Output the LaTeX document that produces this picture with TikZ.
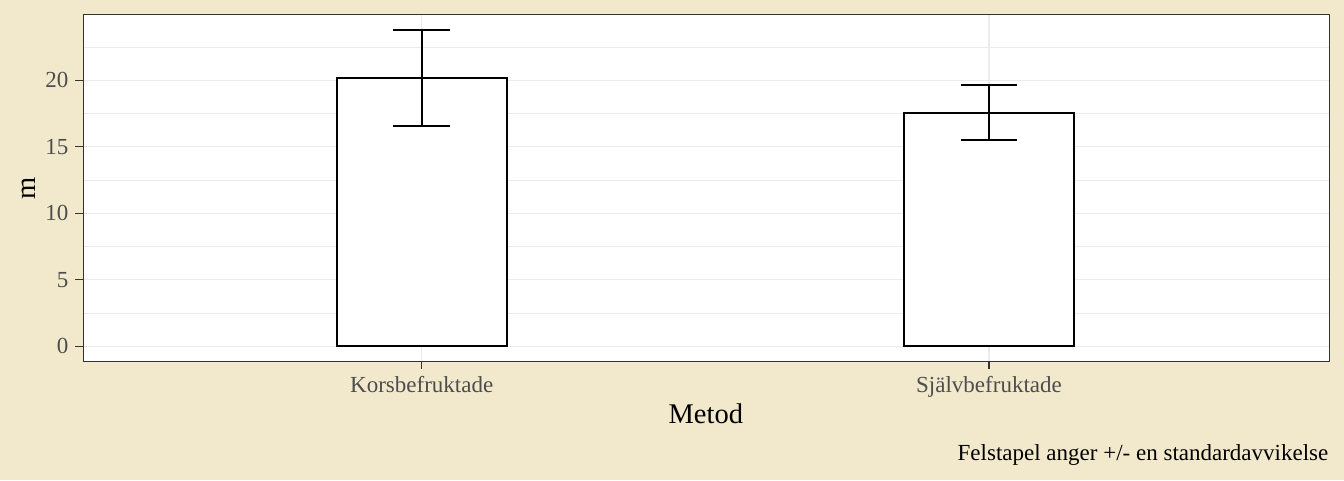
\documentclass[tikz,border=0pt]{standalone}
\usepackage{fontspec}
\setmainfont{Liberation Serif}
\definecolor{bgc}{RGB}{242,233,205}
\definecolor{gridc}{HTML}{EBEBEB}
\definecolor{axc}{HTML}{333333}
\definecolor{tickc}{HTML}{4D4D4D}
\tikzset{
  majorgrid/.style={draw=gridc, line width=1.3pt},
  minorgrid/.style={draw=gridc, line width=0.7pt},
  barbox/.style={draw=black, fill=white, line width=1.9pt},
  errbar/.style={draw=black, line width=1.9pt},
  tickmark/.style={draw=axc, line width=1.3pt},
  ticklab/.style={inner sep=0pt, text=tickc, font=\fontsize{23}{27}\selectfont},
  axtitle/.style={inner sep=0pt, text=black, font=\fontsize{28.5}{33}\selectfont},
  captext/.style={inner sep=0pt, text=black, font=\fontsize{23}{27}\selectfont},
}
\begin{document}
\begin{tikzpicture}[x=1pt,y=-1pt]
\useasboundingbox (0,0) rectangle (1344,480);
\fill[bgc] (0,0) rectangle (1344,480);
% panel
\fill[white] (83.3,14.3) rectangle (1329.5,361.7);
% minor grid
\foreach \yy in {313.05,246.55,180.05,113.55,47.05}
  \draw[minorgrid] (83.3,\yy) -- (1329.5,\yy);
% major grid
\foreach \yy in {346.3,279.8,213.3,146.8,80.3}
  \draw[majorgrid] (83.3,\yy) -- (1329.5,\yy);
\foreach \xx in {421.7,989}
  \draw[majorgrid] (\xx,14.3) -- (\xx,361.7);
% bars
\draw[barbox] (336.7,346.3) rectangle (506.7,78.3);
\draw[barbox] (904,346.3) rectangle (1074,112.7);
% error bars
\coordinate (e1t) at (421.7,30);
\coordinate (e1b) at (421.7,126);
\draw[errbar] (e1t) -- (e1b);
\draw[errbar] ([xshift=-28.3pt]e1t) -- ([xshift=28.3pt]e1t);
\draw[errbar] ([xshift=-28.3pt]e1b) -- ([xshift=28.3pt]e1b);
\coordinate (e2t) at (989,84.7);
\coordinate (e2b) at (989,140);
\draw[errbar] (e2t) -- (e2b);
\draw[errbar] ([xshift=-28pt]e2t) -- ([xshift=28pt]e2t);
\draw[errbar] ([xshift=-28pt]e2b) -- ([xshift=28pt]e2b);
% panel border
\draw[axc, line width=1.4pt] (83.3,14.3) rectangle (1329.5,361.7);
% y ticks and labels
\foreach \yy/\lab [count=\i] in {346.3/0,279.8/5,213.3/10,146.8/15,80.3/20}{
  \draw[tickmark] (75.3,\yy) -- (83.3,\yy);
  \node[ticklab, anchor=base east] (ylab\i) at (68.5,\yy+7.6) {\lab};
}
% x ticks and labels
\draw[tickmark] (421.7,361.7) -- (421.7,368.5);
\draw[tickmark] (989,361.7) -- (989,368.5);
\node[ticklab, anchor=base] (xlab1) at (421.7,392) {Korsbefruktade};
\node[ticklab, anchor=base] (xlab2) at (989,392) {Självbefruktade};
% axis titles
\node[axtitle, anchor=base] (xtitle) at (705.8,423.3) {Metod};
\node[axtitle, anchor=base, rotate=90] (ytitle) at (35,188.5) {m};
% caption
\node[captext, anchor=base east] (cap) at (1328.5,460.7) {Felstapel anger +/- en standardavvikelse};
\end{tikzpicture}
\end{document}
